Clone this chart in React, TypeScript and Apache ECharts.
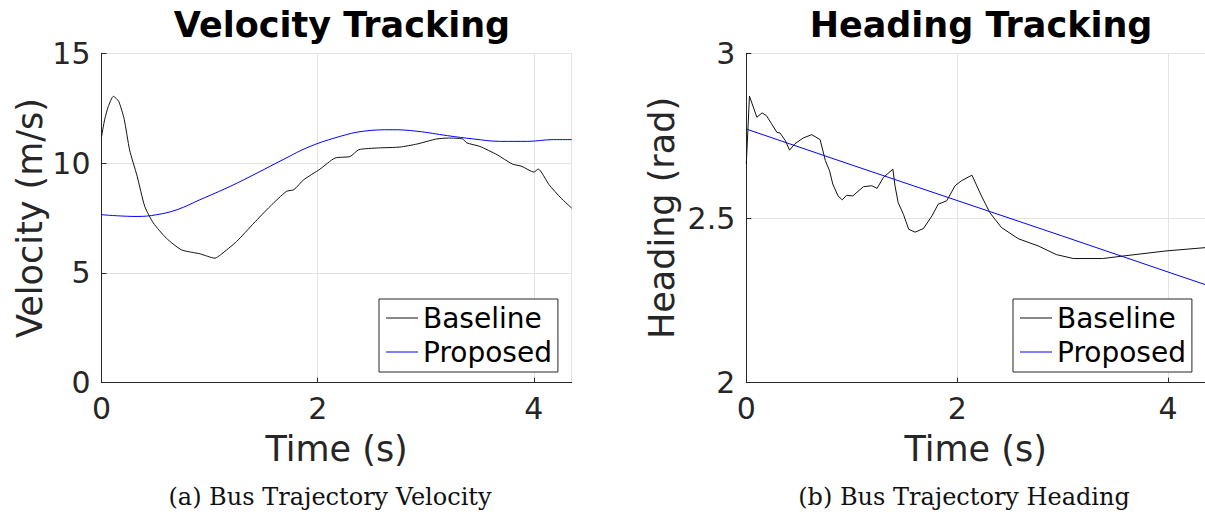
import React, { useEffect, useRef } from "react";
import * as echarts from "echarts";

// Velocity tracking (m/s) over time (s)
const baselineVelT = [0, 0.03, 0.063, 0.11, 0.16, 0.21, 0.26, 0.33, 0.4, 0.48, 0.6, 0.74, 0.91, 1.05, 1.1, 1.25, 1.41, 1.56, 1.71, 1.78, 1.87, 2.02, 2.16, 2.3, 2.38, 2.56, 2.76, 2.92, 3.1, 3.21, 3.34, 3.38, 3.5, 3.66, 3.8, 3.89, 4.0, 4.04, 4.14, 4.25, 4.35];
const baselineVel = [11.2, 12.0, 12.58, 13.04, 12.8, 12.0, 10.6, 9.4, 8.03, 7.27, 6.58, 6.05, 5.87, 5.67, 5.82, 6.43, 7.27, 8.03, 8.71, 8.79, 9.24, 9.72, 10.23, 10.3, 10.61, 10.69, 10.73, 10.87, 11.1, 11.14, 11.1, 10.92, 10.76, 10.38, 9.96, 9.85, 9.59, 9.73, 9.02, 8.41, 7.95];
const proposedVelT = [0, 0.15, 0.33, 0.51, 0.7, 0.91, 1.19, 1.44, 1.68, 1.93, 2.21, 2.42, 2.69, 2.92, 3.2, 3.44, 3.69, 3.94, 4.18, 4.35];
const proposedVel = [7.65, 7.6, 7.57, 7.65, 7.88, 8.33, 8.94, 9.55, 10.16, 10.76, 11.22, 11.45, 11.52, 11.45, 11.25, 11.1, 10.99, 10.99, 11.07, 11.07];

// Heading tracking (rad) over time (s)
const baselineHeadT = [0, 0.03, 0.1, 0.15, 0.19, 0.24, 0.29, 0.32, 0.37, 0.41, 0.46, 0.54, 0.62, 0.7, 0.75, 0.79, 0.82, 0.87, 0.91, 0.95, 1.01, 1.11, 1.19, 1.24, 1.3, 1.39, 1.41, 1.44, 1.49, 1.54, 1.6, 1.68, 1.76, 1.82, 1.9, 1.98, 2.04, 2.14, 2.23, 2.31, 2.42, 2.58, 2.77, 2.94, 3.1, 3.38, 3.61, 3.98, 4.35];
const baselineHead = [2.664, 2.87, 2.806, 2.819, 2.811, 2.786, 2.76, 2.758, 2.735, 2.706, 2.725, 2.743, 2.753, 2.738, 2.674, 2.643, 2.603, 2.567, 2.555, 2.569, 2.567, 2.595, 2.598, 2.59, 2.623, 2.648, 2.598, 2.547, 2.511, 2.466, 2.457, 2.468, 2.506, 2.542, 2.552, 2.598, 2.613, 2.63, 2.567, 2.516, 2.471, 2.437, 2.415, 2.389, 2.377, 2.377, 2.386, 2.4, 2.41];
const proposedHeadT = [0, 1, 2, 3, 4, 4.35];
const proposedHead = [2.77, 2.661, 2.553, 2.445, 2.336, 2.298];

const timeTicks = { min: 0, max: 4.35, interval: 2 };

const FONT = "DejaVu Sans";
const AXIS_COLOR = "#262626";
const GRID_COLOR = "#e3e3e3";
const BASELINE_COLOR = "#111111";
const PROPOSED_COLOR = "#0000ff";

const pairs = (xs: number[], ys: number[]) => xs.map((x, i) => [x, ys[i]]);

const xAxisFor = (gridIndex: number) => ({
  type: "value",
  gridIndex,
  min: timeTicks.min,
  max: timeTicks.max,
  interval: timeTicks.interval,
  name: "Time (s)",
  nameLocation: "middle",
  nameGap: 49,
  nameTextStyle: { fontFamily: FONT, fontSize: 35, color: AXIS_COLOR },
  axisLine: { show: true, lineStyle: { color: AXIS_COLOR, width: 1 } },
  axisTick: { show: true, inside: true, length: 5, lineStyle: { color: AXIS_COLOR } },
  axisLabel: {
    fontFamily: FONT,
    fontSize: 30,
    color: AXIS_COLOR,
    margin: 11,
    showMaxLabel: false,
  },
  splitLine: { show: true, lineStyle: { color: GRID_COLOR, width: 1 } },
});

const yAxisFor = (gridIndex: number, name: string, min: number, max: number, interval: number, nameGap: number) => ({
  type: "value",
  gridIndex,
  min,
  max,
  interval,
  name,
  nameLocation: "middle",
  nameGap,
  nameTextStyle: { fontFamily: FONT, fontSize: 35, color: AXIS_COLOR },
  axisLine: { show: true, lineStyle: { color: AXIS_COLOR, width: 1 } },
  axisTick: { show: true, inside: true, length: 5, lineStyle: { color: AXIS_COLOR } },
  axisLabel: { fontFamily: FONT, fontSize: 30, color: AXIS_COLOR, margin: 11 },
  splitLine: { show: true, lineStyle: { color: GRID_COLOR, width: 1 } },
});

const legendFor = (left: number) => ({
  left,
  top: 299,
  orient: "vertical",
  selectedMode: false,
  data: [
    { name: "Baseline", icon: "rect" },
    { name: "Proposed", icon: "rect" },
  ],
  itemWidth: 32,
  itemHeight: 1,
  itemGap: 4,
  padding: [4, 6, 5, 7],
  borderColor: AXIS_COLOR,
  borderWidth: 1,
  borderRadius: 0,
  backgroundColor: "#ffffff",
  textStyle: { fontFamily: FONT, fontSize: 28, color: "#000", lineHeight: 30 },
});

const lineSeries = (name: string, xi: number, data: number[][], color: string, smooth: number | boolean) => ({
  name,
  type: "line",
  xAxisIndex: xi,
  yAxisIndex: xi,
  data,
  symbol: "none",
  smooth,
  itemStyle: { color },
  lineStyle: { color, width: 1 },
});

const titleStyle = { fontFamily: FONT, fontWeight: "bold", fontSize: 35, color: "#000" };
const captionStyle = { fontFamily: "DejaVu Serif", fontWeight: "normal", fontSize: 24, color: "#111" };

export default function App() {
  const ref = useRef<HTMLDivElement>(null);

  useEffect(() => {
    if (!ref.current) return;
    const chart = echarts.init(ref.current, undefined, { renderer: "svg" });
    chart.setOption({
      animation: false,
      backgroundColor: "#ffffff",
      title: [
        { text: "Velocity Tracking", left: 337, top: 2, textAlign: "center", textStyle: titleStyle },
        { text: "Heading Tracking", left: 976, top: 2, textAlign: "center", textStyle: titleStyle },
        { text: "(a) Bus Trajectory Velocity", left: 325, top: 480, textAlign: "center", textStyle: captionStyle },
        { text: "(b) Bus Trajectory Heading", left: 959, top: 480, textAlign: "center", textStyle: captionStyle },
      ],
      legend: [legendFor(379), legendFor(1013)],
      grid: [
        { left: 101.5, top: 53.3, width: 470.2, height: 329.4 },
        { left: 746.3, top: 53.3, width: 458.7, height: 329.4 },
      ],
      xAxis: [xAxisFor(0), xAxisFor(1)],
      yAxis: [
        yAxisFor(0, "Velocity (m/s)", 0, 15, 5, 54),
        yAxisFor(1, "Heading (rad)", 2, 3, 0.5, 67),
      ],
      series: [
        lineSeries("Baseline", 0, pairs(baselineVelT, baselineVel), BASELINE_COLOR, 0.2),
        lineSeries("Proposed", 0, pairs(proposedVelT, proposedVel), PROPOSED_COLOR, 0.4),
        lineSeries("Baseline", 1, pairs(baselineHeadT, baselineHead), BASELINE_COLOR, false),
        lineSeries("Proposed", 1, pairs(proposedHeadT, proposedHead), PROPOSED_COLOR, false),
      ],
    });
    return () => chart.dispose();
  }, []);

  return (
    <div
      ref={ref}
      style={{ position: "absolute", left: 0, top: 0, width: 1205, height: 519, background: "#fff" }}
    />
  );
}
